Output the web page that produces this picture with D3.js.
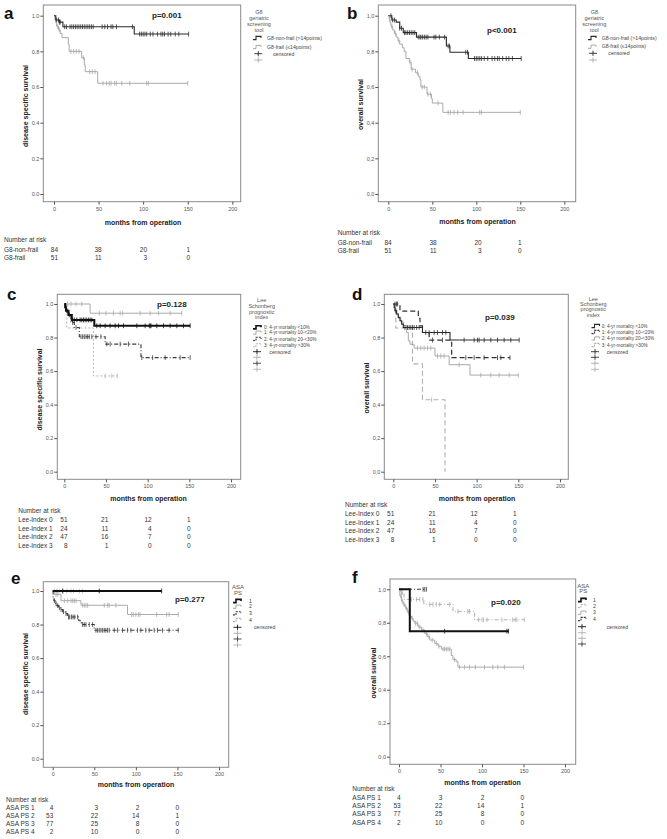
<!DOCTYPE html>
<html><head><meta charset="utf-8">
<script src="https://cdn.jsdelivr.net/npm/d3@7"></script>
<style>body{margin:0;background:#fff}svg{display:block}</style>
</head><body>
<svg id="chart" width="667" height="839"></svg>
<script>
// ---------- DATA ----------
const xTicks = [0, 50, 100, 150, 200];
const yTicks = [0, 0.2, 0.4, 0.6, 0.8, 1.0];

// a: G8, disease specific survival
const aNonFrailSteps = [[0,1],[2,0.976],[6,0.964],[10,0.938],[90,0.897]];
const aNonFrailEnd = 151;
const aNonFrailCens = [3,5,6,7,12,14,18,20,22,24,26,28,30,32,34,36,38,40,42,44,54,57,60,64,66,70,88,96,98,100,102,104,108,111,116,120,122,124,128,131,136,140,151];
const aFrailSteps = [[0,1],[1,0.98],[2,0.96],[3,0.94],[5,0.92],[7,0.90],[9,0.877],[16,0.84],[17,0.80],[31,0.764],[34,0.725],[35,0.686],[49,0.621]];
const aFrailEnd = 150;
const aFrailCens = [1.5,4,6,19,22,25,28,33,40,43,46,55,59,62,64,68,70,76,85,104,106,150];

// b: G8, overall survival
const bNonFrailSteps = [[0,1],[4,0.976],[9,0.964],[13,0.93],[17,0.905],[32,0.88],[66,0.83],[70,0.795],[91,0.76]];
const bNonFrailEnd = 151;
const bNonFrailCens = [3,5,7,13,15,18.5,20,22,24,26,28,30,34,36,37,39,41,43,45,52,54,58,64,68,69.5,88,90,98,100,102,104,106,109,113,118,121,124,126,130,134,137,141,151];
const bFrailSteps = [[0,1],[1,0.98],[2,0.96],[3,0.94],[5,0.92],[7,0.90],[9,0.88],[11,0.86],[13,0.84],[16,0.82],[18,0.80],[20,0.76],[24,0.74],[26,0.70],[31,0.68],[34,0.66],[36,0.64],[37,0.60],[44,0.56],[49,0.535],[50,0.51],[62,0.458]];
const bFrailEnd = 150;
const bFrailCens = [1.5,4,8,12,24.5,27,33,38.5,41,45,48,56.6,68,70.6,74.7,79,85,103.8,105.7,150];

// c: Lee index, disease specific survival
const cIdx0Steps = [[0,1],[1,0.98],[2,0.96],[5,0.935],[9,0.905],[36,0.87]];
const cIdx0End = 151;
const cIdx0Cens = [3,6,10,12,15,19,21,23,25,27,29,31,33,39,43,49,55,61,65,71,87,97,102,103,104,111,119,127,135,143,151];
const cIdx1Steps = [[0,1],[31,0.945]];
const cIdx1End = 141;
const cIdx1Cens = [4,8,14,21,42,50,59,67,70,91,103,113,127,141];
const cIdx2Steps = [[0,1],[2,0.957],[5,0.935],[8,0.89],[12,0.86],[18,0.805],[49,0.761],[92,0.68]];
const cIdx2End = 151;
const cIdx2Cens = [4,10,14,20,22,24,26,28,30,33,38,44,51,55,67,77,93,106,121,139,151];
const cIdx3Steps = [[0,1],[3,0.857],[35,0.571]];
const cIdx3End = 63.6;
const cIdx3Cens = [49,57,63.6];

// d: Lee index, overall survival
const dIdx0Steps = [[0,1],[1,0.98],[2,0.96],[4,0.94],[6,0.92],[8,0.90],[10,0.88],[12,0.86],[35,0.83],[68,0.785]];
const dIdx0End = 151;
const dIdx0Cens = [3,14,17,19,21,23,25,28,31,39,43,49,53,59,63,85,97,101,103,109,117,125,133,141,151];
const dIdx1Steps = [[0,1],[8,0.958],[30,0.915],[32,0.87],[35,0.83],[43,0.785],[70,0.68]];
const dIdx1End = 140;
const dIdx1Cens = [2,4,5,47,59,87,97,109,125,129,140];
const dIdx2Steps = [[0,1],[2,0.957],[4,0.936],[6,0.915],[9,0.894],[12,0.872],[16,0.83],[18,0.78],[20,0.76],[25,0.737],[50,0.69],[67,0.638],[92,0.576]];
const dIdx2End = 150;
const dIdx2Cens = [29,33,37,41,45,53,57,61,79,105,117,127,139,150];
const dIdx3Steps = [[0,1],[3,0.857],[23,0.643],[35,0.429],[62,0]];
const dIdx3End = 62;
const dIdx3Cens = [46];

// e: ASA PS, disease specific survival
const eAsa1Steps = [[0,1]];
const eAsa1End = 131;
const eAsa1Cens = [12,56,131];
const eAsa2Steps = [[0,1],[2,0.98],[10,0.942],[34,0.915],[90,0.86]];
const eAsa2End = 151;
const eAsa2Cens = [4,6,14,18,22,24,26,28,36,38,40,42,62,66,68,76,95,97,100,103,105,125,137,140,151];
const eAsa3Steps = [[0,1],[0.5,0.956],[1.5,0.942],[3,0.926],[5,0.913],[7,0.90],[9,0.89],[12,0.877],[15,0.865],[18,0.845],[31,0.826],[33,0.81],[35,0.80],[50,0.766]];
const eAsa3End = 151;
const eAsa3Cens = [2,4,6,8,10,13,16,19,20.5,22.5,24.5,26.5,30,36,38,40,44,48,52,54,56,58,60,62,64,66,68,74,78,84,90,94,102,106,112,116,122,126,132,140,151];
const eAsa4Steps = [[0,1]];
const eAsa4End = 36;
const eAsa4Cens = [2,5,8,12,17,22,25,32,36];

// f: ASA PS, overall survival
const fAsa1Steps = [[0,1],[13,0.75]];
const fAsa1End = 132;
const fAsa1Cens = [55,130,132];
const fAsa2Steps = [[0,1],[2,0.98],[6,0.94],[30,0.91],[65,0.868],[91,0.818]];
const fAsa2End = 151;
const fAsa2Cens = [3,4,15,21,25,29,37,41,45,49,61,71,83,85,96,100,102,106,124,137,140,142,151];
const fAsa3Steps = [[0,1],[1,0.96],[3,0.93],[5,0.91],[7,0.895],[9,0.876],[11,0.857],[13,0.84],[15,0.827],[17,0.81],[19,0.797],[23,0.775],[27,0.757],[31,0.737],[34,0.717],[37,0.697],[43,0.677],[47,0.66],[51,0.643],[63,0.605],[65,0.58],[69,0.568],[71,0.535]];
const fAsa3End = 150;
const fAsa3Cens = [2,4,6,8,10,12,16,20,22,25,29,33,36,40,45,48,53,55,57,59,61,67,73,79,85,92,103,113,119,127,150];
const fAsa4Steps = [[0,1]];
const fAsa4End = 33;
const fAsa4Cens = [29,31,33];

// number at risk
const g8RiskLabels = ["G8-non-frail", "G8-frail"];
const g8Risk = [[84,38,20,1],[51,11,3,0]];
const leeRiskLabels = ["Lee-Index 0", "Lee-Index 1", "Lee-Index 2", "Lee-Index 3"];
const leeRisk = [[51,21,12,1],[24,11,4,0],[47,16,7,0],[8,1,0,0]];
const asaRiskLabels = ["ASA PS 1", "ASA PS 2", "ASA PS 3", "ASA PS 4"];
const asaRisk = [[4,3,2,0],[53,22,14,1],[77,25,8,0],[2,10,0,0]];

// legend texts
const g8LegendTitle = ["G8", "geriatric", "screening", "tool"];
const g8LegendItems = ["G8-non-frail (>14points)", "G8-frail (\u226414points)"];
const leeLegendTitle = ["Lee", "Schonberg", "prognostic", "index"];
const leeLegendItems = ["0: 4-yr mortality <10%", "1: 4-yr mortality 10-<20%", "2: 4-yr mortality 20-<30%", "3: 4-yr-mortality >30%"];
const asaLegendTitle = ["ASA", "PS"];
const asaLegendItems = ["1", "2", "3", "4"];
const pValues = ["p=0.001", "p<0.001", "p=0.128", "p=0.039", "p=0.277", "p=0.020"];

// ---------- STYLES ----------
const DARK = "#2a2a2a", LIGHT = "#a9a9a9";
const FONT = "'Liberation Sans', Arial, sans-serif";
const sDark = {color: DARK, w: 1.1, dash: null};
const sLight = {color: LIGHT, w: 1.0, dash: null};
const sThick = {color: "#111", w: 2.0, dash: null};
const sDarkDashDot = {color: "#3a3a3a", w: 1.1, dash: "4,2,1,2"};
const sLightDot = {color: "#b4b4b4", w: 1.0, dash: "2,2"};
const sDarkDash = {color: "#333", w: 1.2, dash: "5,3"};
const sLightDash = {color: "#b0b0b0", w: 1.1, dash: "5,3"};
const sLightDashDot = {color: "#b0b0b0", w: 1.0, dash: "4,2,1,2"};

const svg = d3.select("#chart");

function stepAt(steps, t) { let v = steps[0][1]; for (const [tt, s] of steps) { if (tt <= t) v = s; else break; } return v; }

const panels = [
 {letter:"a", lp:[4,19], box:{l:43.3,r:240.7,t:5,b:201.7}, xr:[54,232.3], yr:[194,15.7], dec:".",
  ytitle:"disease specific survival", yt:[27.5,106], xt:[143,225], p:pValues[0], pp:[152,17.7],
  series:[{steps:aNonFrailSteps,end:aNonFrailEnd,cens:aNonFrailCens,st:sDark},{steps:aFrailSteps,end:aFrailEnd,cens:aFrailCens,st:sLight}],
  legend:{title:g8LegendTitle, tx:259, ty:[14,19.5,26,31.5], items:g8LegendItems, sx:253, ix:267, iy:[38,47], cx:258.3, cy:[53.7,60], ctx:273, fs:5.2},
  risk:{labels:g8RiskLabels, vals:g8Risk, lx:4, ty:241.5, ry:[251.5,259.5], cols:[58,101.7,147,190]}},
 {letter:"b", lp:[347,19], box:{l:378.3,r:575.7,t:5,b:201.7}, xr:[388.3,564.3], yr:[194,15.7], dec:",",
  ytitle:"overall survival", yt:[362.5,104.5], xt:[477.5,224], p:pValues[1], pp:[487,33.3],
  series:[{steps:bNonFrailSteps,end:bNonFrailEnd,cens:bNonFrailCens,st:sDark},{steps:bFrailSteps,end:bFrailEnd,cens:bFrailCens,st:sLight}],
  legend:{title:g8LegendTitle, tx:594.3, ty:[14,19.5,26,31.5], items:g8LegendItems, sx:588, ix:601.7, iy:[38,46.7], cx:593, cy:[53.3,60], ctx:608.3, fs:5.2},
  risk:{labels:g8RiskLabels, vals:g8Risk, lx:337.7, ty:234.5, ry:[244.5,253.3], cols:[391.7,436.7,481.7,521.7]}},
 {letter:"c", lp:[7,300], box:{l:57.3,r:240.7,t:294.3,b:479.3}, xr:[64.3,231], yr:[471.7,304], dec:".",
  ytitle:"disease specific survival", yt:[41.5,389.5], xt:[148.5,501], p:pValues[2], pp:[157,306.7],
  series:[{steps:cIdx0Steps,end:cIdx0End,cens:cIdx0Cens,st:sThick},{steps:cIdx1Steps,end:cIdx1End,cens:cIdx1Cens,st:sLight},
          {steps:cIdx2Steps,end:cIdx2End,cens:cIdx2Cens,st:sDarkDashDot},{steps:cIdx3Steps,end:cIdx3End,cens:cIdx3Cens,st:sLightDot}],
  legend:{title:leeLegendTitle, tx:261.7, ty:[301.8,307.5,313.8,319.1], items:leeLegendItems, sx:253, ix:264, iy:[327.3,332.6,338.9,345.3], cx:257, cy:[351.7,357.3,363.3,369.3], ctx:269.3, fs:4.7},
  risk:{labels:leeRiskLabels, vals:leeRisk, lx:18.3, ty:513, ry:[522.3,530.7,539,547.7], cols:[67.5,108.3,151.7,190.5]}},
 {letter:"d", lp:[352,300], box:{l:384.3,r:568.3,t:294.3,b:479.3}, xr:[393.3,560], yr:[471.7,304], dec:",",
  ytitle:"overall survival", yt:[369,388], xt:[477,500.7], p:pValues[3], pp:[485,320],
  series:[{steps:dIdx0Steps,end:dIdx0End,cens:dIdx0Cens,st:sDark},{steps:dIdx1Steps,end:dIdx1End,cens:dIdx1Cens,st:sDarkDash},
          {steps:dIdx2Steps,end:dIdx2End,cens:dIdx2Cens,st:sLight},{steps:dIdx3Steps,end:dIdx3End,cens:dIdx3Cens,st:sLightDash}],
  legend:{title:leeLegendTitle, tx:593.3, ty:[300.8,306.1,311.1,316.5], items:leeLegendItems, sx:591.5, ix:601.7, iy:[326,332,338.5,345], cx:595, cy:[351.7,357.3,363.3,369.3], ctx:606.7, fs:4.7},
  risk:{labels:leeRiskLabels, vals:leeRisk, lx:345, ty:507.3, ry:[516.3,524.7,533,541.7], cols:[394.3,435.7,477.7,516.7]}},
 {letter:"e", lp:[11,584], box:{l:43.3,r:228.7,t:581.7,b:767.3}, xr:[52.7,219], yr:[758.7,591], dec:".",
  ytitle:"disease specific survival", yt:[27.5,674], xt:[136,786.7], p:pValues[4], pp:[175,601.7],
  series:[{steps:eAsa1Steps,end:eAsa1End,cens:eAsa1Cens,st:sThick},{steps:eAsa2Steps,end:eAsa2End,cens:eAsa2Cens,st:sLight},
          {steps:eAsa3Steps,end:eAsa3End,cens:eAsa3Cens,st:sDarkDashDot},{steps:eAsa4Steps,end:eAsa4End,cens:eAsa4Cens,st:sLightDash}],
  legend:{title:asaLegendTitle, tx:238, ty:[588.8,594.8], items:asaLegendItems, sx:233, ix:249, iy:[601,606.7,613.3,620], cx:237.5, cy:[627.3,633.3,639,645], ctx:254, fs:5.2, tfs:6},
  risk:{labels:asaRiskLabels, vals:asaRisk, lx:6, ty:801.5, ry:[810,818,826,834.3], cols:[53.3,98,139.3,179]}},
 {letter:"f", lp:[352,583], box:{l:390,r:575.7,t:579,b:764.3}, xr:[399,565], yr:[756.7,589.3], dec:",",
  ytitle:"overall survival", yt:[375.5,673], xt:[482.5,785], p:pValues[5], pp:[491,605],
  series:[{steps:fAsa1Steps,end:fAsa1End,cens:fAsa1Cens,st:sThick},{steps:fAsa2Steps,end:fAsa2End,cens:fAsa2Cens,st:sLightDashDot},
          {steps:fAsa3Steps,end:fAsa3End,cens:fAsa3Cens,st:sLight},{steps:fAsa4Steps,end:fAsa4End,cens:fAsa4Cens,st:sDarkDashDot}],
  legend:{title:asaLegendTitle, tx:583.3, ty:[587.8,592.8], items:asaLegendItems, sx:578, ix:593, iy:[600,606,612.7,619], cx:582, cy:[626.7,632.7,638.3,644], ctx:606.7, fs:5.2, tfs:6},
  risk:{labels:asaRiskLabels, vals:asaRisk, lx:352.3, ty:791.3, ry:[799.6,807.6,816.3,824.6], cols:[400.7,442.3,484.3,524]}}
];

function drawPanel(P) {
  const g = svg.append("g");
  const x = d3.scaleLinear().domain([0, 200]).range(P.xr);
  const y = d3.scaleLinear().domain([0, 1]).range(P.yr);

  g.append("rect").attr("x", P.box.l).attr("y", P.box.t)
    .attr("width", P.box.r - P.box.l).attr("height", P.box.b - P.box.t)
    .attr("fill", "none").attr("stroke", "#8a8a8a").attr("stroke-width", 1);

  const ya = d3.axisLeft(y).tickValues(yTicks).tickSize(3).tickPadding(1)
    .tickFormat(d => d3.format(".1f")(d).replace(".", P.dec));
  g.append("g").attr("transform", `translate(${P.box.l},0)`).call(ya)
    .call(s => s.select(".domain").remove())
    .attr("font-size", 5.5).attr("font-family", FONT).attr("color", "#555");

  const xa = d3.axisBottom(x).tickValues(xTicks).tickSize(3).tickPadding(2);
  g.append("g").attr("transform", `translate(0,${P.box.b})`).call(xa)
    .call(s => s.select(".domain").remove())
    .attr("font-size", 5.5).attr("font-family", FONT).attr("color", "#555");

  // curves (draw last series first so series 0 sits on top)
  const line = d3.line().x(d => x(d[0])).y(d => y(d[1])).curve(d3.curveStepAfter);
  P.series.slice().reverse().forEach(s => {
    const pts = s.steps.concat([[s.end, s.steps[s.steps.length - 1][1]]]);
    g.append("path").attr("d", line(pts)).attr("fill", "none")
      .attr("stroke", s.st.color).attr("stroke-width", s.st.w)
      .attr("stroke-dasharray", s.st.dash);
    g.append("g").selectAll("line").data(s.cens).join("line")
      .attr("x1", d => x(d)).attr("x2", d => x(d))
      .attr("y1", d => y(stepAt(s.steps, d)) - 2.4)
      .attr("y2", d => y(stepAt(s.steps, d)) + 2.4)
      .attr("stroke", s.st.color).attr("stroke-width", 0.8);
  });

  // texts
  g.append("text").attr("x", P.lp[0]).attr("y", P.lp[1]).text(P.letter)
    .attr("font-family", FONT).attr("font-weight", "bold").attr("font-size", 17).attr("fill", "#111");
  g.append("text").attr("x", P.pp[0]).attr("y", P.pp[1]).text(P.p)
    .attr("font-family", FONT).attr("font-weight", "bold").attr("font-size", 8).attr("fill", "#222");
  g.append("text").attr("x", P.xt[0]).attr("y", P.xt[1]).text("months from operation")
    .attr("text-anchor", "middle").attr("font-family", FONT).attr("font-weight", "bold").attr("font-size", 7).attr("fill", "#222");
  g.append("text").attr("transform", `translate(${P.yt[0]},${P.yt[1]}) rotate(-90)`).text(P.ytitle)
    .attr("text-anchor", "middle").attr("font-family", FONT).attr("font-weight", "bold").attr("font-size", 7).attr("fill", "#222");

  // legend
  const L = P.legend;
  L.title.forEach((t, i) => g.append("text").attr("x", L.tx).attr("y", L.ty[i]).text(t)
    .attr("text-anchor", "middle").attr("font-family", FONT).attr("font-size", L.tfs || 5.5).attr("fill", "#555"));
  L.items.forEach((t, i) => {
    const st = P.series[i].st, yy = L.iy[i];
    g.append("path").attr("d", `M${L.sx},${yy + 1.6}H${L.sx + 3}V${yy - 1.6}H${L.sx + 8}V${yy}`)
      .attr("fill", "none").attr("stroke", st.color).attr("stroke-width", Math.min(st.w, 1.6))
      .attr("stroke-dasharray", st.dash ? "2,1" : null);
    g.append("text").attr("x", L.ix).attr("y", yy + 1.7).text(t)
      .attr("font-family", FONT).attr("font-size", L.fs).attr("fill", "#444");
  });
  L.cy.forEach((cy, i) => {
    const col = P.series[i].st.color;
    g.append("line").attr("x1", L.cx - 4).attr("x2", L.cx + 4).attr("y1", cy).attr("y2", cy).attr("stroke", col).attr("stroke-width", 0.9);
    g.append("line").attr("x1", L.cx).attr("x2", L.cx).attr("y1", cy - 2.6).attr("y2", cy + 2.6).attr("stroke", col).attr("stroke-width", 0.9);
  });
  g.append("text").attr("x", L.ctx).attr("y", L.cy[0] + 1.8).text("censored")
    .attr("font-family", FONT).attr("font-size", 5.2).attr("fill", "#444");

  // number at risk
  const R = P.risk;
  g.append("text").attr("x", R.lx).attr("y", R.ty).text("Number at risk")
    .attr("font-family", FONT).attr("font-size", 6.5).attr("fill", "#333");
  R.labels.forEach((lab, i) => {
    g.append("text").attr("x", R.lx).attr("y", R.ry[i]).text(lab)
      .attr("font-family", FONT).attr("font-size", 6.5).attr("fill", "#333");
    R.vals[i].forEach((v, j) => g.append("text").attr("x", R.cols[j]).attr("y", R.ry[i]).text(v)
      .attr("text-anchor", "end").attr("font-family", FONT).attr("font-size", 6.5).attr("fill", "#333"));
  });
}

panels.forEach(drawPanel);
</script>
</body></html>
